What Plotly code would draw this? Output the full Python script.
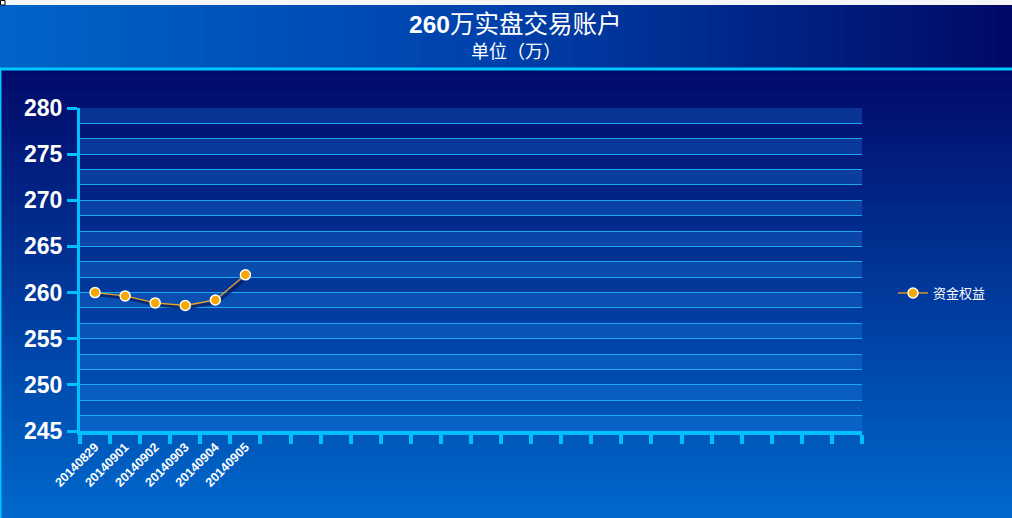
import plotly.graph_objects as go

# ---- data ----
dates = ["20140829", "20140901", "20140902", "20140903", "20140904", "20140905"]
equity = [260.0, 259.64, 258.88, 258.6, 259.2, 261.92]
n_slots = 26
empty_slots = [" " * k for k in range(1, n_slots - len(dates) + 1)]
categories = dates + empty_slots
series_name = "资金权益"
title_main = "<b>260</b>万实盘交易账户"
title_sub = "单位（万）"
y_min, y_max = 245, 280

W, H = 1012, 518
L, R, T, B = 80, 150, 108, 87
plot_h = H - T - B
plot_w = W - L - R

def py(p):  # pixel y -> paper y
    return (H - B - p) / plot_h

def px(p):  # pixel x -> paper x
    return (p - L) / plot_w

def lerp(c1, c2, t):
    return "rgb(%d,%d,%d)" % tuple(round(a + (b - a) * t) for a, b in zip(c1, c2))

shapes = []
# body vertical gradient
top_c, bot_c = (1, 10, 106), (0, 104, 204)
N = 60
y_start, y_end = 68, H
for i in range(N):
    a = y_start + (y_end - y_start) * i / N
    b = y_start + (y_end - y_start) * (i + 1) / N + 0.8
    shapes.append(dict(type="rect", xref="paper", yref="paper", x0=px(0), x1=px(W),
                       y0=py(a), y1=py(b), fillcolor=lerp(top_c, bot_c, i / (N - 1)),
                       line_width=0, layer="below"))
# header horizontal gradient
hl, hm, hr = (0, 100, 200), (0, 64, 170), (0, 10, 102)
M = 60
for i in range(M):
    a = W * i / M
    b = W * (i + 1) / M + 0.8
    t = i / (M - 1)
    col = lerp(hl, hm, t * 2) if t < 0.5 else lerp(hm, hr, (t - 0.5) * 2)
    shapes.append(dict(type="rect", xref="paper", yref="paper", x0=px(a), x1=px(b),
                       y0=py(5), y1=py(68), fillcolor=col, line_width=0, layer="below"))
# white strip at top
shapes.append(dict(type="rect", xref="paper", yref="paper", x0=px(0), x1=px(W),
                   y0=py(0), y1=py(5), fillcolor="#f4f6fa", line_width=0, layer="below"))
shapes.append(dict(type="rect", xref="paper", yref="paper", x0=px(0.5), x1=px(5),
                   y0=py(0.5), y1=py(5), fillcolor="white", line=dict(color="black", width=1),
                   layer="below"))
# cyan separator and left border
shapes.append(dict(type="line", xref="paper", yref="paper", x0=px(0), x1=px(W),
                   y0=py(69), y1=py(69), line=dict(color="#00c8ff", width=3), layer="below"))
shapes.append(dict(type="line", xref="paper", yref="paper", x0=px(0.7), x1=px(0.7),
                   y0=py(69), y1=py(H), line=dict(color="#00c8ff", width=1.5), layer="below"))
# alternating bands
step = 5 / 3
for i in range(0, 21, 2):
    shapes.append(dict(type="rect", xref="paper", yref="y", x0=0, x1=1,
                       y0=y_min + i * step, y1=y_min + (i + 1) * step,
                       fillcolor="rgba(30,130,230,0.30)", line_width=0, layer="below"))

fig = go.Figure()

# shadow line (offset axes)
fig.add_trace(go.Scatter(x=dates, y=equity, mode="lines", xaxis="x2", yaxis="y2",
                         line=dict(color="rgba(10,28,90,0.75)", width=3),
                         showlegend=False, hoverinfo="skip"))
# main line
fig.add_trace(go.Scatter(x=dates, y=equity, mode="lines+markers", name=series_name,
                         xaxis="x3", yaxis="y3",
                         line=dict(color="#f0a020", width=1.3),
                         marker=dict(color="#f7a800", size=10,
                                     line=dict(color="white", width=1.5))))

ax_common = dict(type="category", categoryorder="array", categoryarray=categories)
fig.update_layout(
    width=W, height=H,
    margin=dict(l=L, r=R, t=T, b=B),
    paper_bgcolor="#0040a0",
    plot_bgcolor="rgba(0,0,0,0)",
    shapes=shapes,
    font=dict(family="Liberation Sans, Noto Sans CJK SC", color="white"),
    xaxis=dict(**ax_common, range=[-0.5, n_slots - 0.5], tickson="boundaries",
               showgrid=False, showline=True, linecolor="#00c0ff", linewidth=4,
               ticks="outside", ticklen=9, tickwidth=4, tickcolor="#00c0ff",
               tickangle=-45, tickfont=dict(size=12.5, color="white",
                                            family="Liberation Sans"),
               tickprefix="<b>", ticksuffix="</b>", zeroline=False),
    yaxis=dict(range=[y_min, y_max], tick0=245, dtick=5, showline=True,
               linecolor="#00c0ff", linewidth=3, ticks="outside", ticklen=10,
               tickwidth=3, tickcolor="#00c0ff", gridcolor="#1aa8f0", gridwidth=1,
               minor=dict(tick0=245, dtick=step, showgrid=True, gridcolor="#1aa8f0",
                          gridwidth=1, ticks=""),
               tickfont=dict(size=23, color="white", family="Liberation Sans"),
               tickprefix="<b>", ticksuffix="</b>", zeroline=False),
    xaxis2=dict(**ax_common, overlaying="x", visible=False,
                range=[-0.5 - 0.07, n_slots - 0.5 - 0.07]),
    yaxis2=dict(overlaying="y", visible=False, range=[y_min + 0.25, y_max + 0.25]),
    xaxis3=dict(**ax_common, overlaying="x", visible=False, range=[-0.5, n_slots - 0.5]),
    yaxis3=dict(overlaying="y", visible=False, range=[y_min, y_max]),
    legend=dict(x=px(893), y=py(293), xanchor="left", yanchor="middle",
                bgcolor="rgba(0,0,0,0)", font=dict(size=13, color="white",
                family="Noto Sans CJK SC")),
    annotations=[
        dict(text=title_main, xref="paper", yref="paper", x=px(515), y=py(25),
             xanchor="center", yanchor="middle", showarrow=False,
             font=dict(size=24.5, color="white", family="Liberation Sans, Noto Sans CJK SC")),
        dict(text=title_sub, xref="paper", yref="paper", x=px(516), y=py(50),
             xanchor="center", yanchor="middle", showarrow=False,
             font=dict(size=18, color="white", family="Noto Sans CJK SC")),
    ],
)

fig.write_html("out.html", config={"displayModeBar": False},
               post_script="document.body.style.margin='0px';document.body.style.overflow='hidden';")
